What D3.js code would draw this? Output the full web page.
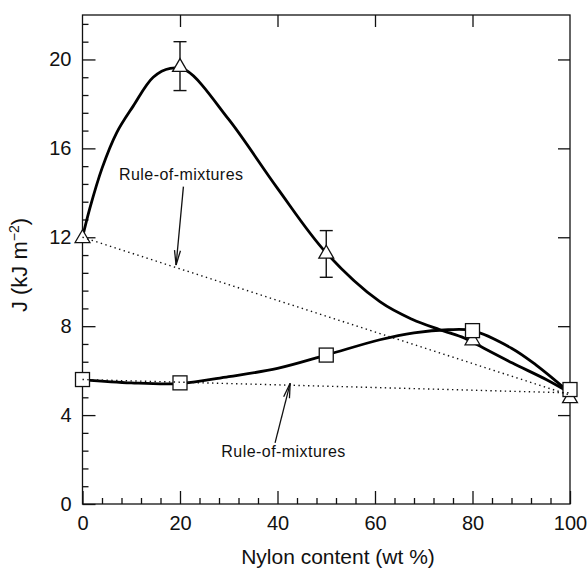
<!DOCTYPE html>
<html lang="en">
<head>
<meta charset="UTF-8" />
<title>J vs nylon content</title>
<script src="https://cdn.jsdelivr.net/npm/d3@7/dist/d3.min.js"></script>
<style>
    body { margin: 0; background: #fff; }
    text { font-family: "Liberation Sans", Arial, Helvetica, sans-serif; fill: #111; }
</style>
</head>
<body>
<svg id="chart" width="588" height="571"></svg>
<script>
    // measured points
    const nylon = [0, 20, 50, 80, 100];
    const triJ = [12.0, 19.7, 11.3, 7.4, 4.8];
    const sqJ = [5.6, 5.45, 6.7, 7.8, 5.15];
    // error bars on the triangle series (low, high)
    const errX = [20, 50];
    const errLo = [18.6, 10.2];
    const errHi = [20.8, 12.3];

    // drawn fit curves
    const triFitX = [0, 1.5, 4, 7, 10.4, 14.5, 18, 21.3, 30, 40, 50, 61, 67.7, 73.3, 78.4, 81, 88.2, 95.2, 100];
    const triFitY = [12, 13.3, 15.1, 16.7, 17.9, 19.2, 19.6, 19.5, 17.3, 14.2, 11.3, 9.1, 8.3, 7.84, 7.46, 7.16, 6.34, 5.59, 5.0];
    const sqFitX = [0, 10, 20, 30, 40, 50, 61, 68, 75, 80, 88, 93, 100];
    const sqFitY = [5.6, 5.45, 5.42, 5.73, 6.1, 6.7, 7.39, 7.7, 7.84, 7.8, 7.01, 6.26, 5.0];

    // rule-of-mixtures lines (end points)
    const romX = [0, 100];
    const romUpper = [12.0, 4.9];
    const romLower = [5.6, 5.0];

    const xTicks = [0, 20, 40, 60, 80, 100];
    const yTicks = [0, 4, 8, 12, 16, 20];

    const svg = d3.select("#chart");

    const x = d3.scaleLinear().domain([0, 100]).range([82.5, 570]);
    const y = d3.scaleLinear().domain([0, 22]).range([504, 15]);

    // frame
    svg.append("rect")
        .attr("x", x(0)).attr("y", y(22))
        .attr("width", x(100) - x(0)).attr("height", y(0) - y(22))
        .attr("fill", "none").attr("stroke", "#111").attr("stroke-width", 1.3);

    // minor ticks
    const xMinor = d3.range(0, 101, 4).filter(v => v % 20 !== 0);
    const yMinor = d3.range(0, 22, 0.8).map(v => +v.toFixed(1)).filter(v => Math.abs(v / 4 - Math.round(v / 4)) > 0.01);

    const axes = svg.append("g").attr("class", "axes");

    axes.append("g")
        .attr("transform", `translate(0,${y(0)})`)
        .call(d3.axisBottom(x).tickValues(xMinor).tickSize(-6).tickFormat(""));
    axes.append("g")
        .attr("transform", `translate(${x(0)},0)`)
        .call(d3.axisLeft(y).tickValues(yMinor).tickSize(-6).tickFormat(""));

    // major ticks with labels
    axes.append("g")
        .attr("transform", `translate(0,${y(0)})`)
        .call(d3.axisBottom(x).tickValues(xTicks).tickSize(-13).tickPadding(12).tickFormat(d3.format("d")))
        .selectAll("text").style("font-size", "20px");
    axes.append("g")
        .attr("transform", `translate(${x(0)},0)`)
        .call(d3.axisLeft(y).tickValues(yTicks).tickSize(-13).tickPadding(11).tickFormat(d3.format("d")))
        .selectAll("text").style("font-size", "20px");

    // mirror ticks on top and right
    axes.append("g")
        .attr("transform", `translate(0,${y(22)})`)
        .call(d3.axisTop(x).tickValues(xTicks.slice(1, -1)).tickSize(-12).tickFormat(""));
    axes.append("g")
        .attr("transform", `translate(${x(100)},0)`)
        .call(d3.axisRight(y).tickValues(yTicks.slice(1)).tickSize(-12).tickFormat(""));

    axes.selectAll(".domain").remove();
    axes.selectAll("line").attr("stroke", "#111").attr("stroke-width", 1.3);
    axes.selectAll("text").attr("fill", "#111").attr("font-family", null);

    // axis titles
    svg.append("text")
        .attr("x", 338).attr("y", 564)
        .attr("text-anchor", "middle")
        .style("font-size", "21px")
        .text("Nylon content (wt %)");

    const yt = svg.append("text")
        .attr("transform", "translate(27,265) rotate(-90)")
        .attr("text-anchor", "middle")
        .style("font-size", "22px");
    yt.append("tspan").text("J (kJ m");
    yt.append("tspan").attr("dy", "-0.55em").style("font-size", "14px").text("\u22122");
    yt.append("tspan").attr("dy", "0.35em").text(")");

    // fitted curves
    const line = d3.line().x(d => x(d[0])).y(d => y(d[1])).curve(d3.curveCatmullRom.alpha(0.5));
    svg.append("path")
        .datum(d3.zip(triFitX, triFitY))
        .attr("d", line)
        .attr("fill", "none").attr("stroke", "#000").attr("stroke-width", 2.8);
    svg.append("path")
        .datum(d3.zip(sqFitX, sqFitY))
        .attr("d", line)
        .attr("fill", "none").attr("stroke", "#000").attr("stroke-width", 2.8);

    // error bars
    const eb = svg.append("g").attr("stroke", "#111").attr("stroke-width", 1.4);
    errX.forEach((v, i) => {
        eb.append("line").attr("x1", x(v)).attr("x2", x(v)).attr("y1", y(errLo[i])).attr("y2", y(errHi[i]));
        [errLo[i], errHi[i]].forEach(e => {
            eb.append("line").attr("x1", x(v) - 6.5).attr("x2", x(v) + 6.5).attr("y1", y(e)).attr("y2", y(e));
        });
    });

    // markers
    const tri = d3.symbol().type(d3.symbolTriangle).size(95);
    svg.append("g").selectAll("path")
        .data(d3.zip(nylon, triJ))
        .join("path")
        .attr("d", tri)
        .attr("transform", d => `translate(${x(d[0])},${y(d[1]) + 1})`)
        .attr("fill", "#fff").attr("stroke", "#111").attr("stroke-width", 1.3);

    svg.append("g").selectAll("rect")
        .data(d3.zip(nylon, sqJ))
        .join("rect")
        .attr("x", d => x(d[0]) - 7).attr("y", d => y(d[1]) - 7)
        .attr("width", 14).attr("height", 14)
        .attr("fill", "#fff").attr("stroke", "#111").attr("stroke-width", 1.3);

    // rule-of-mixtures dotted lines
    const straight = d3.line().x(d => x(d[0])).y(d => y(d[1]));
    [romUpper, romLower].forEach(r => {
        svg.append("path")
            .datum(d3.zip(romX, r))
            .attr("d", straight)
            .attr("fill", "none").attr("stroke", "#111")
            .attr("stroke-width", 1.4).attr("stroke-dasharray", "1.4,3.4");
    });

    // annotations
    const notes = [
        { tx: 20.2, ty: 14.58, ax: 20.7, ay: 14.28, bx: 19.2, by: 10.75 },
        { tx: 41.2, ty: 2.12, ax: 39.5, ay: 2.75, bx: 42.6, by: 5.43 }
    ];
    notes.forEach(n => {
        svg.append("text")
            .attr("x", x(n.tx)).attr("y", y(n.ty))
            .attr("text-anchor", "middle")
            .style("font-size", "16px")
            .attr("textLength", 124)
            .text("Rule-of-mixtures");
        const x1 = x(n.ax), y1 = y(n.ay) , x2 = x(n.bx), y2 = y(n.by);
        svg.append("line").attr("x1", x1).attr("y1", y1).attr("x2", x2).attr("y2", y2)
            .attr("stroke", "#111").attr("stroke-width", 1.3);
        const ang = Math.atan2(y1 - y2, x1 - x2);
        [-0.2, 0.2].forEach(da => {
            svg.append("line")
                .attr("x1", x2).attr("y1", y2)
                .attr("x2", x2 + 15 * Math.cos(ang + da)).attr("y2", y2 + 15 * Math.sin(ang + da))
                .attr("stroke", "#111").attr("stroke-width", 1.3);
        });
    });
</script>
</body>
</html>
